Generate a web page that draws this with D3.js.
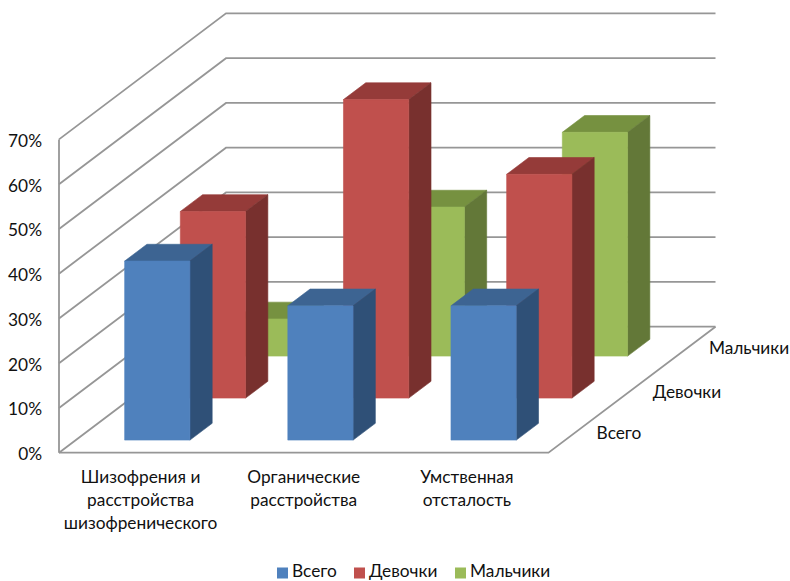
<!DOCTYPE html>
<html lang="ru"><head><meta charset="utf-8">
<script src="https://cdn.jsdelivr.net/npm/d3@7"></script>
<style>html,body{margin:0;background:#fff}svg{display:block}text{font-family:Lato,"Open Sans",sans-serif;font-size:17.3px;fill:#111}</style>
</head><body><svg id="c" width="790" height="581"></svg>
<script>
const categories = ["Шизофрения и расстройства шизофренического", "Органические расстройства", "Умственная отсталость"];
const categoryLines = [["Шизофрения и", "расстройства", "шизофренического"], ["Органические", "расстройства"], ["Умственная", "отсталость"]];
const seriesNames = ["Всего", "Девочки", "Мальчики"];
const vsego = [0.40, 0.30, 0.30];
const devochki = [0.417, 0.667, 0.50];
const malchiki = [0.083, 0.333, 0.50];
const yTicks = [0, 0.1, 0.2, 0.3, 0.4, 0.5, 0.6, 0.7];
const frontColors = ["#4F81BD", "#C0504D", "#9BBB59"];
const topColors = ["#3D6492", "#953B39", "#769140"];
const sideColors = ["#2F5077", "#78302E", "#637838"];

const seriesValues = [vsego, devochki, malchiki];
const svg = d3.select("#c");
const depthDX = 167, depthDY = -126;
const x = d3.scaleBand(categories, [59, 548.5]).paddingInner(0.6).paddingOuter(0.3);
const z = d3.scaleBand(seriesNames, [0, 1]).paddingInner(0.6).paddingOuter(0.3);
const y = d3.scaleLinear([0, 0.7], [452.7, 139.4]);
const P = (px, d, v) => [px + d * depthDX, y(v) + d * depthDY];
const line = d3.line();
const gridColor = "#969696";

const grid = svg.append("g").attr("fill", "none").attr("stroke", gridColor).attr("stroke-width", 1.8);
grid.selectAll("path.g").data(yTicks).join("path").attr("class", "g")
  .attr("d", t => line([P(x.range()[0], 0, t), P(x.range()[0], 1, t), P(x.range()[1], 1, t)]));
grid.append("path").attr("d", line([P(59, 0, 0.7), P(59, 0, 0)]));
grid.append("path").attr("d", line([P(59, 0, 0), P(548.5, 0, 0), P(548.5, 1, 0)]));

const bars = svg.append("g");
[2, 1, 0].forEach(s => {
  const d0 = z(seriesNames[s]), d1 = d0 + z.bandwidth();
  categories.forEach((c, i) => {
    const v = seriesValues[s][i];
    const x0 = x(c), x1 = x0 + x.bandwidth();
    const g = bars.append("g").attr("stroke-width", 0.6).attr("stroke-linejoin", "round");
    const poly = (pts, fill) => g.append("path").attr("d", line(pts) + "Z").attr("fill", fill).attr("stroke", fill);
    poly([P(x0, d0, v), P(x1, d0, v), P(x1, d1, v), P(x0, d1, v)], topColors[s]);
    poly([P(x1, d0, 0), P(x1, d1, 0), P(x1, d1, v), P(x1, d0, v)], sideColors[s]);
    poly([P(x0, d0, 0), P(x1, d0, 0), P(x1, d0, v), P(x0, d0, v)], frontColors[s]);
  });
});

svg.append("g").selectAll("text").data(yTicks).join("text")
  .attr("x", 42).attr("y", t => y(t) + 7.5).attr("text-anchor", "end")
  .text(d3.format(".0%"));

categories.forEach((c, i) => {
  const t = svg.append("text").attr("text-anchor", "middle");
  categoryLines[i].forEach((l, j) => t.append("tspan")
    .attr("x", x(c) + x.bandwidth() / 2).attr("y", 483 + j * 23).text(l));
});

const floorLabel = [[619, 439], [687, 398], [749, 354]];
seriesNames.forEach((n, s) => svg.append("text").attr("text-anchor", "middle")
  .attr("x", floorLabel[s][0]).attr("y", floorLabel[s][1]).text(n));

const legendX = [277, 354, 455];
seriesNames.forEach((n, s) => {
  svg.append("rect").attr("x", legendX[s]).attr("y", 567.5).attr("width", 11).attr("height", 11).attr("fill", frontColors[s]);
  svg.append("text").attr("x", legendX[s] + 15).attr("y", 577).text(n);
});
</script></body></html>
